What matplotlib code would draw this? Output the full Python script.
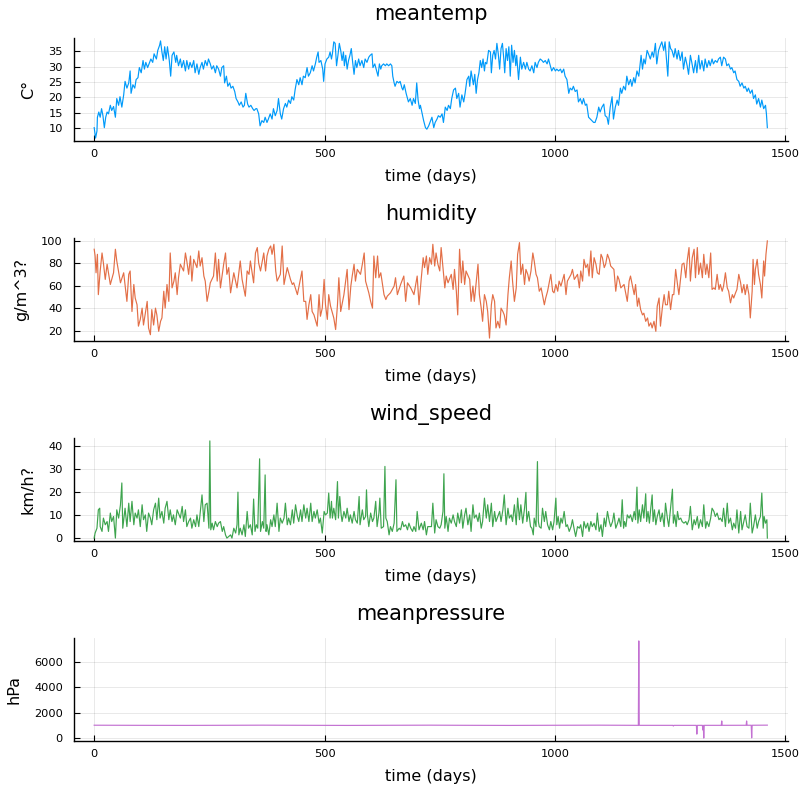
import matplotlib
matplotlib.use("Agg")
import matplotlib.pyplot as plt
import numpy as np

# ---------------- data ----------------
temp_day = [0,3,6,7,10,13,16,19,22,25,28,31,35,38,42,46,49,53,56,60,
            64,67,71,75,78,80,84,88,91,95,98,102,106,109,112,116,119,123,127,130,
            135,138,142,144,147,150,153,156,159,163,166,169,173,177,179,183,187,190,194,198,
            201,205,208,212,216,219,223,227,230,234,237,241,245,248,252,255,259,263,266,270,
            274,277,281,283,287,290,294,297,301,305,308,312,315,319,323,326,329,333,336,340,
            344,347,351,
            353,357,360,364,368,371,375,378,382,386,389,393,397,400,404,407,411,415,418,422,
            426,429,433,436,440,444,447,451,454,458,462,465,469,473,476,480,483,486,488,492,
            496,498,501,505,509,512,515,517,520,523,526,529,532,535,538,541,543,546,549,552,
            555,558,561,564,567,570,574,577,581,585,588,592,596,599,603,605,609,612,616,619,
            622,624,628,632,635,639,643,646,648,651,653,657,661,664,668,670,673,677,679,682,
            686,690,693,697,700,703,706,708,711,715,719,722,726,
            733,737,740,744,747,751,755,758,762,766,769,773,776,780,784,787,791,794,798,802,
            805,809,813,815,818,821,823,826,829,832,835,838,841,844,847,849,852,856,860,862,
            865,868,871,874,877,880,883,886,889,891,894,897,900,903,906,909,912,915,917,921,
            925,928,932,936,939,943,946,950,954,957,961,964,968,972,975,979,983,986,990,993,
            997,1001,1004,1008,1012,1015,1019,1022,1026,1030,1033,1037,1040,1044,1048,1051,1055,1059,1062,1066,
            1069,1073,1077,1080,1084,1087,1091,1095,1098,1102,1106,
            1109,1113,1116,1120,1124,1127,1131,1135,1138,1142,1145,1149,1153,1156,1160,1164,1167,1171,1174,1178,
            1182,1185,1187,1190,1193,1196,1200,1203,1207,1211,1214,1218,1221,1225,1229,1232,1236,1239,1242,1245,
            1248,1251,1254,1258,1261,1265,1268,1272,1276,1279,1283,1287,1290,1294,1297,1301,1305,1308,1312,1315,
            1319,1323,1326,1330,1334,1337,1341,1344,1348,1352,1355,1359,1362,1366,1370,1373,1377,1381,1384,1388,
            1391,1395,1399,1402,1406,1410,1413,1417,1420,1424,1428,1431,1435,1438,1442,1446,1449,1453,1457,1459,
            1461]
temp_val = [10.1,6.7,9,13.5,15.2,13.5,16.3,14,10.1,13.5,15.2,14.6,17.4,15.7,17,13.5,19.6,17.4,20.2,16.8,
            20.8,25.2,23,24.7,28.6,21.3,24.1,23,25.8,26.4,29.7,28,32,29.2,31.4,29.7,30.9,32.5,31.4,34.2,
            32.5,35.3,37,38.4,34.8,32,36.5,32.5,36.5,32,26.9,33.7,34.8,31.4,33.7,30.3,32.5,29.7,32,28.6,
            32,29.2,31.4,29.7,32,28,30.9,27.5,29.7,31.4,29.2,32,30.3,32.5,30.9,29.2,30.3,28,30.3,29.2,
            26.9,29.7,30.3,24.7,26.9,23.6,24.7,23,23.6,21.9,19.6,18.5,17.4,18.5,16.8,17.4,21.3,17.8,16.8,17.4,
            16.3,15.7,16.3,
            16.3,14.6,10.7,12.4,11.8,13.5,11.8,12.9,14.6,12.9,16.3,14,15.7,19.6,14.6,12.9,16.3,18,16.8,19.1,
            18,20.2,19.1,22.4,25.8,24.1,26.4,24.1,26.9,26.4,29.7,26.9,28,30.3,28.6,30.9,33.1,34.8,31.4,32,
            29.2,25.2,30.9,32.5,33.1,34.8,32.5,34.2,38.1,37.6,30.3,33.7,37.6,35.3,32,34.8,30.3,33.7,29.2,32,
            33.7,35.9,31.4,27.5,32,29.7,32.5,30.3,32,29.7,32.5,31.4,33.1,33.7,34.2,29.7,30.9,29.2,26.9,30.9,
            29.2,30.3,30.9,30.3,30.9,30.3,30.9,30.3,26.9,24.7,23.6,25.2,24.7,25.2,23,22.4,24.1,21.3,20.2,18.5,
            19.6,17.4,19.6,18,24.7,19.1,16.3,17.4,15.2,12.4,10.1,9.6,10.7,
            13.5,10.1,11.8,12.9,14,13.5,14.6,11.8,16.8,15.7,17.4,16.3,19.6,22.4,23,19.6,21.3,16.8,20.8,18.5,
            21.3,25.8,26.9,23.6,28.6,25.8,24.1,27.5,21.3,25.8,28,32,29.7,32.5,28.6,31.4,30.9,35.3,34.8,28,
            33.7,35.3,32.5,37.6,34.2,29.2,35.9,37.6,32.5,28,35.9,32,36.5,26.9,37,31.4,35.3,30.3,33.7,25.8,
            33.1,29.2,31.4,29.2,31.4,29.2,28.6,30.3,28,31.4,29.7,31.4,32.5,32,31.4,32,30.9,32.5,30.3,28.6,
            29.7,28.6,29.2,28.6,29.2,28,29.2,26.9,25.8,21.3,23,22.4,23.6,21.9,22.4,18.5,19.6,17.8,19.6,17.4,
            17.8,13.5,12.9,12.4,11.8,11.8,13.5,16.8,15.2,16.8,17.8,
            14,13.5,11.2,16.8,20.2,12.9,16.8,19.1,17.4,23,21.3,23.6,22.4,26.9,24.1,25.8,23.6,26.4,24.7,28.6,
            26.9,30.9,33.7,29.2,32.5,30.9,35.3,34.2,32.5,34.8,33.1,37.6,30.9,35.3,37,38.1,35.3,38.1,32.5,26.9,
            38.1,35.9,35.3,33.1,35.9,32.5,35.3,32,34.8,29.2,33.1,30.3,27.5,33.7,31.4,28,32,28,33.7,29.2,
            32,28.6,32.5,29.7,32,30.3,32.5,30.9,32,31.4,32.5,33.1,30.3,33.1,32.5,30.3,30.9,29.2,29.7,28,
            28.6,25.8,25.2,23.6,24.7,23,23.6,21.9,23,21.3,22.4,19.6,20.8,17.8,19.6,16.8,19.1,16.3,17.4,14.6,
            10.1]

hum_day = [0,2,4,7,9,13,17,20,24,28,35,42,46,49,57,64,71,75,78,82,
           86,89,93,96,100,104,107,115,118,122,125,129,133,136,140,144,147,151,154,158,
           162,165,169,173,176,180,183,187,194,198,201,205,209,212,216,223,227,230,234,238,
           241,245,249,252,259,263,267,270,274,281,285,288,292,296,303,310,317,321,328,332,
           336,339,346,350,354,357,361,368,372,375,379,383,386,390,394,397,404,408,412,419,
           426,430,433,441,448,451,455,459,462,466,470,473,477,484,488,491,495,499,502,506,
           509,513,520,524,528,531,535,542,549,553,557,560,564,567,571,578,582,586,589,593,
           596,600,604,607,611,615,618,622,629,633,636,643,651,654,658,665,672,676,680,687,
           694,701,705,
           710,714,717,721,724,728,732,735,739,742,746,750,753,757,761,764,768,775,779,782,
           786,789,793,797,800,804,807,815,818,822,825,833,836,840,843,847,851,854,858,862,
           865,869,872,876,880,883,887,890,894,898,901,905,908,912,916,919,923,926,930,934,
           937,941,944,948,952,955,959,962,966,970,977,980,984,991,995,998,1002,1006,1009,1013,
           1020,1024,1027,1035,1038,1042,1049,1053,1056,1060,1063,1067,1071,1074,1078,1081,1085,1089,1092,1096,
           1100,1103,1107,1110,1114,1118,1121,1128,1132,1136,1139,1143,1150,1157,1161,1164,1172,1175,1179,1182,
           1186,1190,1193,1197,1201,1204,1208,1211,1215,1219,1222,1226,1229,1233,1237,1240,1244,1247,1251,1255,
           1258,1262,1266,1269,1273,1276,1280,1284,1287,1291,1294,1298,1302,1305,1309,1312,1316,1320,1323,1327,
           1330,1334,1338,1341,1345,1348,1352,1356,1359,1363,1366,1370,1374,1377,1381,1385,1388,1392,1395,1399,
           1403,1406,1410,1413,1417,1421,1424,1428,1430,1433,1435,1439,1442,1446,1449,1453,1455,1458,1461]
hum_val = [92.3,86.3,71.4,87.8,52,73,89,80,65.5,79,61,71.4,92.3,81.9,62.5,71.4,46,70,73,37,
           61,49,43,24,30,40,25,46,22.4,16.4,38.7,25,40,34,19.4,28.3,31.3,55,40,61,
           46,89,58,64,71.4,52,67,79,73,89,81.9,70,86.3,64,83.3,76,90.8,77.4,84.8,68.5,
           64,46,55,62.5,68.5,89,64,83.3,58,79,89,70,76,53.6,71.4,58,81.9,65.5,50.6,73,
           70,81.9,62.5,89,93.8,80,73,89,73,86.3,92.3,95.2,87.8,96.7,73,64,70,95.2,61,76,
           65.5,61,62.5,52,67,73,46,46,30,43,52,37,34,24,52,32.8,40,65.5,43,30,
           52,41.7,31.3,21,43,67,37,52,74.4,38.7,59.6,68.5,79,64,74.4,70,79,89,64,58,
           53.6,46,40,86.3,67,86.3,67,71.4,52,47.6,50.6,53.6,59.6,67,52,61,68.5,46,62.5,58,
           52,68.5,43,
           67,84.8,76,86.3,70,84.8,79,96.7,77.4,89,79,73,93.8,76,58,68.5,62.5,70,56.6,74.4,
           55,34,92.3,62.5,81.9,61,73,65.5,46,59.6,46,79,52,40,28.3,52,46,37,13.4,43,
           52,46,22.4,28.3,22.4,40,37,34,25,52,67,81.9,64,46,58,87.8,98.2,70,79,61,
           74.4,70,64,73,89,81.9,70,67,55,58,43,49,55,70,55,53.6,61,55,64,59.6,
           70,52,64,70,74.4,65.5,70,58,73,64,83.3,76,79,68.5,90.8,67,84.8,79,71.4,70,
           87.8,84.8,76,79,87.8,83.3,77.4,74.4,55,68.5,65.5,58,61,46,64,68.5,52,61,41.7,49,
           38.7,34,35.5,28.3,31.3,24,27,22.4,28.3,19.4,41.7,49,24,40,52,43,43,55,38.7,52,
           52,74.4,61,52,67,79,80,67,81.9,93.8,64,84.8,92.3,67,93.8,70,80,67,87.8,70,
           79,67,89,56.6,58,56.6,70,56.6,61,55,59.6,71.4,58,55,44.7,52,49,53.6,56.6,70,
           62.5,53.6,61,52,61,52,31.3,55,83.3,61,74.4,83.3,70,61,49,81.9,68.5,87.8,99.7]

wind_day = [0,2,6,9,12,13,17,20,24,28,31,35,38,42,46,49,53,57,60,62,
            67,71,75,78,82,86,89,93,96,100,104,107,111,114,118,122,125,129,133,136,
            140,143,147,151,154,158,162,165,169,172,176,180,187,191,194,198,201,205,209,212,
            216,220,223,227,230,234,238,241,245,249,251,253,256,259,263,267,270,274,278,281,
            285,288,292,296,299,303,307,310,312,314,317,321,325,328,332,335,339,343,346,349,
            352,355,359,361,365,368,371,373,375,379,383,386,390,393,397,401,404,408,412,415,
            419,422,426,430,433,437,441,444,448,451,455,459,462,466,470,473,477,480,484,488,
            491,495,499,502,506,509,512,515,517,520,524,528,530,533,536,538,542,546,549,553,
            556,560,564,567,571,575,577,582,585,589,591,593,596,600,604,607,611,614,618,620,
            623,628,631,633,636,640,643,647,651,655,657,662,665,669,672,676,680,683,687,691,
            694,698,701,705,
            710,714,717,721,724,728,732,735,739,742,746,750,753,757,759,761,764,768,771,775,
            779,782,786,789,793,797,800,804,807,811,815,818,822,825,829,833,836,840,843,847,
            851,854,858,862,865,869,872,876,880,883,887,890,894,898,901,905,908,912,916,919,
            923,926,930,934,937,939,943,947,950,953,955,959,962,964,966,970,973,977,980,984,
            988,991,995,998,1002,1004,1007,1010,1013,1016,1020,1024,1027,1031,1035,1038,1042,1045,1049,1053,
            1056,1060,1063,1067,1071,1074,1078,1081,1085,1089,1092,1096,1100,1103,1107,1110,1114,1118,1121,1125,
            1128,1132,1136,1139,1143,1146,1149,1151,1154,1157,1161,1164,1168,1172,1175,1178,1180,1183,1186,1190,
            1193,1197,1199,1202,1205,1208,1211,1213,1216,1219,1222,1226,1229,1233,1237,1240,1244,1247,1251,1255,
            1257,1260,1263,1266,1269,1273,1276,1280,1284,1287,1291,1294,1298,1302,1305,1309,1312,1316,1320,1323,
            1327,1330,1334,1338,1341,1345,1348,1352,1356,1359,1363,1366,1370,1374,1377,1381,1385,1388,1392,1395,
            1399,1403,1406,1410,1413,1417,1421,1424,1428,1431,1435,1439,1442,1446,1449,1452,1454,1457,1460,1461]
wind_val = [0,2.2,4.3,12.3,13,5,2.9,8.7,5.8,7.2,2.9,10.9,7.2,9.4,0,12.3,8.7,14.5,24,4.3,
            13,5,15.2,7.2,16,5.8,10.9,8.7,12.3,5,14.5,8,10.1,2.9,10.9,8.7,5.8,12.3,15.2,8,
            17.4,8.7,11.6,6.5,13,16,8,12.3,7.2,10.1,5.8,12.3,8.7,13.8,7.2,12.3,5,7.2,8.7,4.3,
            8,5,10.1,5,10.9,18.8,7.2,14.5,15.2,4.3,42.3,3.6,6.5,3.6,7.2,5,6.5,7.2,2.9,5,
            1.4,0,0.7,1.4,0,4.3,2.2,5.8,20,1.4,4.3,1.4,5.8,0.7,11.6,4.3,5.8,1.4,17,2.9,
            5.8,4.3,34.5,2.9,7.2,4.3,27.5,2.9,5.8,1.4,8,5,10.1,5,15.2,2.9,8.7,6.5,8.7,15.2,
            5.8,8.7,5.8,12.3,6.5,14.5,9.4,7.2,12.3,7.2,14.5,8.7,13,7.2,15.2,7.2,11.6,8.7,12.3,6.5,
            8.7,2.2,11.6,10.1,10.9,19.6,8.7,16,8.7,13,8,24.6,8.7,18.1,10.1,7.2,11.6,8.7,13,7.2,
            10.1,6.5,11.6,8,6.5,18.1,5.8,12.3,8,9.4,21,10.1,5,10.9,7.2,8.7,16,5,10.9,17.4,
            4.3,5,31.2,8.7,7.2,1.4,5,2.9,6.5,25.4,2.9,4.3,3.6,7.2,5,5.8,3.6,6.5,4.3,2.9,
            5,2.9,11.6,3.6,
            6.5,3.6,7.2,1.4,5,5,5,15.2,2.2,8,5,4.3,5.8,11.6,28,4.3,9.4,2.9,8.7,6.5,
            10.1,7.2,5,10.9,6.5,12.3,4.3,10.1,13,5.8,10.1,2.9,14.5,8.7,10.1,7.2,10.9,4.3,7.2,17.4,
            8.7,14.5,7.2,15.2,5,11.6,7.2,9.4,11.6,7.2,12.3,18.8,5.8,13,8.7,10.1,7.2,14.5,5.8,17.4,
            8,14.5,6.5,13,19.9,7.2,11.6,5,4.3,1.4,8.7,5,33.3,7.2,5,4.3,13,7.2,11.6,5.8,
            3.6,7.2,3.6,7.2,17.4,5.8,9.4,4.3,8.7,6.5,11.6,5,5.8,2.9,5,8,3.6,0.7,5,4.3,
            5.8,0.7,7.2,4.3,6.5,2.9,7.2,5,6.5,3.6,10.9,2.9,5.8,0.7,8.7,5,11.6,7.2,5,7.2,
            10.9,4.3,6.5,8.7,5,16.7,4.3,7.2,5,10.1,8.7,10.1,7.2,11.6,8,22.2,6.5,12.3,7.2,14.5,
            8.7,19.3,7.2,11.6,6.5,13,18.8,7.2,12.3,5.8,9.4,12.3,7.2,10.9,5,15.2,8.7,5,13,21.3,
            6.5,10.1,5,11.6,8,8.7,7.2,6.5,7.2,5.8,8,13.8,3.6,8,5.8,9.4,4.3,8,5,14.5,
            4.3,7.2,5,8.7,13,11.6,9.4,10.9,8,8.7,7.2,13,5,15.2,6.5,8.7,3.6,6.5,4.3,12.3,
            2.2,11.6,3.6,7.2,10.1,5,4.3,15.2,2.2,5,10.1,4.3,7.2,9.4,19.6,4.3,9.4,6.5,8,0]

pres_day = [0,100,200,300,365,450,550,650,730,800,900,1000,1095,1181,1182,1183,
            1256,1257,1258,1307,1308,1309,1320,1321,1322,1323,1324,1361,1362,1363,
            1415,1416,1417,1426,1427,1428,1461]
pres_val = [1015,1005,1000,1010,1018,1008,998,1010,1018,1008,998,1010,1018,1005,7679,1005,
            1004,950,1004,1003,310,1003,1005,633,1005,-3,1005,1005,1352,1006,
            1010,1350,1010,1012,12,1012,1020]

titles = ["meantemp", "humidity", "wind_speed", "meanpressure"]
ylabels = ["C°", "g/m^3?", "km/h?", "hPa"]
xlabel = "time (days)"
colors = ["#009AFA", "#E36F47", "#3EA44E", "#C371D2"]
yticks = [[10, 15, 20, 25, 30, 35], [20, 40, 60, 80, 100], [0, 10, 20, 30, 40], [0, 2000, 4000, 6000]]
xticks = [0, 500, 1000, 1500]

series = [(temp_day, temp_val), (hum_day, hum_val), (wind_day, wind_val), (pres_day, pres_val)]

plt.rcParams['font.family'] = ['DejaVu Sans']
W, H = 799, 800
fig = plt.figure(figsize=(W / 100, H / 100), dpi=100)

left_px, right_px = 74, 788
tops = [38, 238, 438, 638]
height_px = 103

for i, (d, v) in enumerate(series):
    top = tops[i]
    ax = fig.add_axes([left_px / W, 1 - (top + height_px) / H,
                       (right_px - left_px) / W, height_px / H])
    d = np.asarray(d, float)
    v = np.asarray(v, float)
    ax.plot(d, v, color=colors[i], lw=0.85)
    xmin, xmax = 1.0, 1462.0
    xr = xmax - xmin
    ax.set_xlim(xmin - 0.03 * xr - 1, xmax + 0.03 * xr)
    ymin, ymax = v.min(), v.max()
    yr = ymax - ymin
    ax.set_ylim(ymin - 0.03 * yr, ymax + 0.03 * yr)
    ax.set_xticks(xticks)
    ax.set_yticks(yticks[i])
    ax.grid(True, color='black', alpha=0.1, lw=0.6)
    ax.set_axisbelow(True)
    for s in ['top', 'right']:
        ax.spines[s].set_visible(False)
    for s in ['left', 'bottom']:
        ax.spines[s].set_linewidth(1.0)
    ax.tick_params(direction='in', length=4, width=0.8, labelsize=8.2, pad=6)
    ax.tick_params(axis='y', pad=8)
    ax.set_title(titles[i], fontsize=15, pad=13)
    ax.set_xlabel(xlabel, fontsize=11.5, labelpad=7)
    ax.set_ylabel(ylabels[i], fontsize=11.5, labelpad=9)

fig.savefig("out.png", dpi=100)
